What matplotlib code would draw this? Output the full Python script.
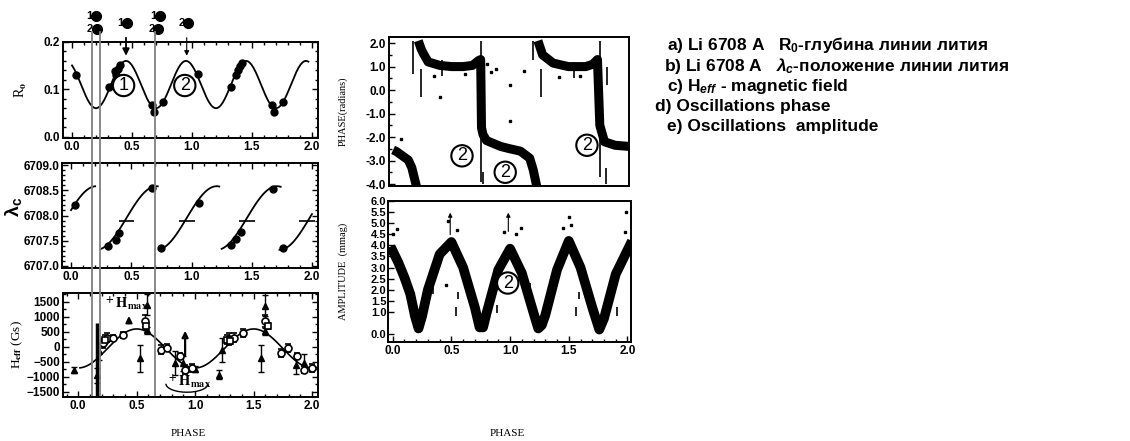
import numpy as np
import matplotlib
matplotlib.use('Agg')
import matplotlib.pyplot as plt
from matplotlib import transforms
from matplotlib.patches import Arc
from matplotlib.ticker import MultipleLocator, FormatStrFormatter

plt.rcParams['font.family'] = ['Liberation Sans', 'DejaVu Sans']
plt.rcParams['font.weight'] = 'bold'
plt.rcParams['mathtext.fontset'] = 'custom'
plt.rcParams['mathtext.rm'] = 'Liberation Sans:bold'
plt.rcParams['mathtext.bf'] = 'Liberation Sans:bold'
plt.rcParams['mathtext.it'] = 'Liberation Sans:italic:bold'

# ------------------------------------------------------------------ data
phase_ticks = [0.0, 0.5, 1.0, 1.5, 2.0]
marker_phases = [0.167, 0.233, 0.69]          # vertical phase lines

# top markers above panel a
top_labels = ['1', '2', '1', '1', '2', '2']
top_x = [0.20, 0.205, 0.456, 0.73, 0.72, 0.97]
top_y = [0.255, 0.228, 0.241, 0.255, 0.228, 0.240]
arrow_a_x = [0.45, 0.956]

# a) R0 line depth
r0_x = [0.03, 0.31, 0.36, 0.37, 0.38, 0.40, 0.67, 0.68, 0.76,
        1.05, 1.325, 1.37, 1.38, 1.40, 1.42, 1.67, 1.68, 1.76]
r0_y = [0.130, 0.104, 0.138, 0.130, 0.142, 0.152, 0.066, 0.053, 0.073,
        0.132, 0.104, 0.130, 0.140, 0.150, 0.155, 0.066, 0.053, 0.073]
r0_mean, r0_amp, r0_period, r0_peak = 0.11, 0.05, 0.5, 0.45
r0_fit_range = (0.0, 1.97)
a_circles = [('1', 0.43, 0.108), ('2', 0.94, 0.108)]

# b) lambda_c line position
lam_x = [0.03, 0.31, 0.37, 0.40, 0.67, 0.75, 1.06, 1.325, 1.37, 1.41, 1.68, 1.76]
lam_y = [6708.21, 6707.40, 6707.52, 6707.66, 6708.54, 6707.35,
         6708.24, 6707.42, 6707.54, 6707.67, 6708.53, 6707.35]
lam_mid, lam_amp, lam_halfperiod = 6707.95, 0.63, 0.5
lam_centers = [-0.04, 0.46, 0.96, 1.46, 1.98]
lam_seg_start = [0.0, 0.25, 0.73, 1.25, 1.73]
lam_seg_end = [0.20, 0.72, 1.23, 1.74, 2.0]
lam_bar_x = [0.46, 0.96, 1.46, 1.96]
lam_bar_y = 6707.9

# c) H_eff magnetic field
h_tri_x = [-0.04, 0.16, 0.18, 0.53, 0.59, 0.59, 0.83, 0.90, 1.00, 1.20, 1.23, 1.56, 1.60, 1.60, 1.86, 1.93]
h_tri_y = [-760, -950, -150, -370, 1400, 560, -530, -540, -720, -920, -90, -370, 1370, 520, -590, -530]
h_tri_e = [100, 250, 300, 450, 350, 120, 400, 250, 100, 150, 400, 450, 350, 120, 300, 300]
h_circ_x = [0.21, 0.25, 0.30, 0.385, 0.57, 0.71, 0.76, 0.87, 0.915, 0.97,
            1.29, 1.33, 1.41, 1.60, 1.73, 1.79, 1.87, 1.93, 2.00]
h_circ_y = [130, 300, 300, 410, 860, -90, -30, -310, -755, -700,
            250, 300, 466, 860, -200, -33, -310, -755, -700]
h_circ_e = [150, 150, 100, 100, 200, 150, 120, 100, 150, 120,
            200, 150, 120, 200, 120, 120, 100, 120, 120]
h_sq_x = [0.23, 0.58, 1.27, 1.30, 1.62]
h_sq_y = [243, 700, 243, 200, 700]
h_sq_e = [150, 100, 150, 100, 100]
h_mean, h_amp, h_zero = -50, 650, 0.25
h_fit_range = (0.015, 2.04)
h_long_bar = (0.158, -1700, 800)
h_arrows = [(0.434, 700, 1130), (0.914, -367, 633)]

# d) oscillation phase (dense band centre)
d_x = [0.0, 0.03, 0.08, 0.13, 0.16, 0.18, 0.20, np.nan,
       0.216, 0.24, 0.26, 0.30, 0.40, 0.50, 0.60, 0.68, 0.73, 0.75, 0.757, 0.77, 0.80, 0.92, 1.00, 1.09, 1.17, 1.20, 1.23, np.nan,
       1.24, 1.26, 1.28, 1.37, 1.50, 1.65, 1.71, 1.75, 1.77, 1.81, 1.90, 2.02]
d_y = [-2.55, -2.62, -2.80, -2.98, -3.3, -3.7, -4.1, np.nan,
       2.1, 1.75, 1.55, 1.2, 1.05, 1.0, 1.0, 1.05, 1.25, 1.3, -1.6, -1.9, -2.15, -2.4, -2.5, -2.6, -2.9, -3.4, -4.1, np.nan,
       2.1, 1.8, 1.5, 1.15, 1.0, 1.0, 1.1, 1.3, -1.5, -2.2, -2.35, -2.4]
d_spikes = [(0.17, 0.7, 2.1), (0.24, -0.3, 0.9), (0.75, -3.9, 2.1), (1.20, 1.3, 2.1),
            (1.27, -0.3, 0.9), (1.77, -3.7, 2.1), (1.83, 0.2, 1.0), (1.82, -4.0, -3.3),
            (0.77, -4.0, -3.5), (0.74, -0.5, 0.6), (1.73, 0.3, 0.9), (0.42, 0.6, 1.3),
            (1.55, 0.5, 1.2)]
d_dots_x = [1.00, 1.00, 0.40, 0.84, 0.88, 1.12, 0.35, 1.42, 0.62, 1.60, 0.80, 0.07]
d_dots_y = [0.21, -1.3, -0.28, 0.78, 0.9, 0.8, 0.6, 0.55, 0.7, 0.6, 1.1, -2.1]
d_circles = [('2', 0.59, -2.8), ('2', 0.96, -3.5), ('2', 1.66, -2.35)]

# e) oscillation amplitude (dense band centre)
e_x = [0.0, 0.05, 0.10, 0.15, 0.19, 0.22, 0.25, 0.30, 0.40, 0.50, 0.60, 0.70, 0.74, 0.77, 0.80,
       0.90, 1.00, 1.10, 1.20, 1.24, 1.27, 1.30, 1.40, 1.50, 1.60, 1.70, 1.76, 1.80, 1.90, 2.02]
e_y = [3.75, 3.2, 2.55, 1.8, 0.8, 0.25, 0.8, 2.0, 3.6, 4.15, 3.0, 1.2, 0.3, 0.3, 0.95,
       2.9, 3.85, 2.75, 0.95, 0.25, 0.4, 0.85, 2.9, 4.2, 3.0, 1.2, 0.2, 0.7, 2.7, 4.0]
e_spikes = [(0.145, 1.9, 2.3), (0.54, 0.8, 1.2), (0.56, 1.6, 1.9), (0.89, 0.93, 1.3),
            (1.17, 1.9, 2.3), (1.56, 0.8, 1.2), (1.59, 1.6, 1.9), (1.91, 0.8, 1.2),
            (0.34, 1.8, 2.4), (0.66, 2.0, 2.4), (1.35, 2.0, 2.5)]
e_dots_x = [0.04, 0.0, 0.47, 1.09, 1.50, 1.99, 1.52, 0.55, 0.95, 1.45, 0.45, 1.05, 1.98]
e_dots_y = [4.75, 4.5, 5.1, 4.8, 5.3, 5.5, 4.9, 4.7, 4.6, 4.8, 2.2, 4.5, 4.6]
e_arrows = [(0.49, 4.36, 5.6), (0.985, 4.5, 5.6)]
e_circles = [('2', 0.98, 2.3)]

legend_lines = [
    'a) Li 6708 A   R$_0$-глубина линии лития',
    'b) Li 6708 A   $\\lambda_c$-положение линии лития',
    'c) H$_{eff}$ - magnetic field',
    'd) Oscillations phase',
    'e) Oscillations  amplitude',
]
legend_px = [667, 664, 667, 655, 667]
legend_py = [45, 65.5, 86, 106.5, 127]

# ------------------------------------------------------------------ figure
W, H = 1130, 441
fig = plt.figure(figsize=(W / 100, H / 100), dpi=100)


def px_axes(left, top, right, bottom):
    return fig.add_axes([left / W, 1 - bottom / H, (right - left) / W, (bottom - top) / H])


ax_a = px_axes(63, 42, 318, 138)
ax_b = px_axes(62, 163, 318, 268)
ax_c = px_axes(63, 293, 318, 397)
ax_d = px_axes(389, 37, 629, 186)
ax_e = px_axes(388, 201, 631, 342)


def style(ax, all_sides=True):
    for s in ax.spines.values():
        s.set_linewidth(1.4)
    ax.tick_params(which='both', direction='in', top=all_sides, right=all_sides,
                   labelsize=8.5, width=1.0, pad=2)
    ax.tick_params(which='major', length=4)
    ax.tick_params(which='minor', length=2.5)


serif = dict(family='Liberation Serif', weight='normal', math_fontfamily='stix')


def circ(ax, txt, x, y, fs=12):
    ax.text(x, y, txt, ha='center', va='center', fontsize=fs, fontweight='normal',
            bbox=dict(boxstyle='circle,pad=0.12', fc='white', ec='black', lw=1.5), zorder=6)


# ---- a
ax = ax_a
xs = np.linspace(*r0_fit_range, 400)
ax.plot(xs, r0_mean + r0_amp * np.cos(2 * np.pi * (xs - r0_peak) / r0_period), 'k-', lw=1.3)
ax.plot(r0_x, r0_y, 'ko', ms=5)
for t, x, y in a_circles:
    circ(ax, t, x, y, 13)
for t, x, y in zip(top_labels, top_x, top_y):
    ax.plot(x, y, 'ko', ms=7, clip_on=False)
    ax.text(x - 0.03, y, t, ha='right', va='center', fontsize=8, clip_on=False)
for i, x in enumerate(arrow_a_x):
    ax.annotate('', xy=(x, 0.165), xytext=(x, 0.215), annotation_clip=False,
                arrowprops=dict(arrowstyle='-|>', lw=1.3 if i == 0 else 0.8, color='k',
                                mutation_scale=10 if i == 0 else 7))
ax.set_xlim(-0.075, 2.05)
ax.set_ylim(-0.003, 0.2)
ax.set_xticks(phase_ticks)
ax.xaxis.set_minor_locator(MultipleLocator(0.1))
ax.yaxis.set_major_locator(MultipleLocator(0.1))
ax.yaxis.set_minor_locator(MultipleLocator(0.02))
ax.xaxis.set_major_formatter(FormatStrFormatter('%.1f'))
ax.yaxis.set_major_formatter(FormatStrFormatter('%.1f'))
style(ax)
ax.set_ylabel('R$_\\mathrm{o}$', fontsize=10, **serif)
ax.yaxis.set_label_coords(-0.135, 0.5)

# ---- b
ax = ax_b
for c, s, e in zip(lam_centers, lam_seg_start, lam_seg_end):
    xs = np.linspace(s, e, 100)
    ax.plot(xs, lam_mid + lam_amp * np.sin(np.pi * (xs - c) / lam_halfperiod), 'k-', lw=1.3)
ax.hlines([lam_bar_y] * len(lam_bar_x), np.array(lam_bar_x) - 0.065, np.array(lam_bar_x) + 0.065,
          colors='k', lw=1.2)
ax.plot(lam_x, lam_y, 'ko', ms=5)
ax.set_xlim(-0.075, 2.05)
ax.set_ylim(6706.96, 6709.04)
ax.set_xticks(phase_ticks)
ax.xaxis.set_minor_locator(MultipleLocator(0.1))
ax.yaxis.set_major_locator(MultipleLocator(0.5))
ax.yaxis.set_minor_locator(MultipleLocator(0.1))
ax.xaxis.set_major_formatter(FormatStrFormatter('%.1f'))
ax.yaxis.set_major_formatter(FormatStrFormatter('%.1f'))
style(ax)
ax.set_ylabel('λ$_\\mathrm{c}$', fontsize=14, fontweight='bold')
ax.yaxis.set_label_coords(-0.15, 0.58)

# ---- c
ax = ax_c
xs = np.linspace(*h_fit_range, 400)
ax.plot(xs, h_mean + h_amp * np.sin(2 * np.pi * (xs - h_zero)), 'k-', lw=1.2)
ax.errorbar(h_tri_x, h_tri_y, yerr=h_tri_e, fmt='^', ms=4, color='k', mfc='k',
            elinewidth=1.0, capsize=2, capthick=1)
ax.errorbar(h_circ_x, h_circ_y, yerr=h_circ_e, fmt='o', ms=5, color='k', mfc='white',
            mew=1.2, elinewidth=1.0, capsize=2, capthick=1)
ax.errorbar(h_sq_x, h_sq_y, yerr=h_sq_e, fmt='s', ms=5, color='k', mfc='white',
            mew=1.2, elinewidth=1.0, capsize=2, capthick=1)
ax.vlines(h_long_bar[0], h_long_bar[1], h_long_bar[2], colors='k', lw=2.5)
for x, y0, y1 in h_arrows:
    ax.annotate('', xy=(x, y1), xytext=(x, y0),
                arrowprops=dict(arrowstyle='-|>', lw=1.6, color='k', mutation_scale=9))
ax.text(0.22, 1420, '$^+\\mathrm{H}_{\\mathbf{max}}$', fontsize=10.5, va='center', **serif)
ax.text(0.76, -1180, '$^+\\mathrm{H}_{\\mathbf{max}}$', fontsize=10.5, va='center', **serif)
ax.add_patch(Arc((0.93, -1230), 0.36, 560, theta1=95, theta2=355, lw=1.0, color='k'))
ax.set_xlim(-0.13, 2.05)
ax.set_ylim(-1670, 1800)
ax.set_xticks(phase_ticks)
ax.xaxis.set_minor_locator(MultipleLocator(0.1))
ax.set_yticks([-1500, -1000, -500, 0, 500, 1000, 1500])
ax.yaxis.set_minor_locator(MultipleLocator(250))
ax.xaxis.set_major_formatter(FormatStrFormatter('%.1f'))
style(ax)
ax.set_ylabel('H$_{\\mathrm{eff}}$ (Gs)', fontsize=9.5, **serif)
ax.yaxis.set_label_coords(-0.15, 0.5)
ax.set_xlabel('PHASE', fontsize=8, **serif)
ax.xaxis.set_label_coords(0.49, -0.31)

# ---- d
ax = ax_d
ax.plot(d_x, d_y, 'k-', lw=6.5, solid_capstyle='butt', solid_joinstyle='round')
for x, y0, y1 in d_spikes:
    ax.vlines(x, y0, y1, colors='k', lw=1.2)
ax.plot(d_dots_x, d_dots_y, 'ks', ms=1.5)
for t, x, y in d_circles:
    circ(ax, t, x, y, 13)
ax.set_xlim(-0.035, 2.02)
ax.set_ylim(-4.085, 2.26)
ax.set_xticks(phase_ticks)
ax.tick_params(labelbottom=False)
ax.yaxis.set_major_locator(MultipleLocator(1.0))
ax.yaxis.set_minor_locator(MultipleLocator(0.5))
ax.yaxis.set_major_formatter(FormatStrFormatter('%.1f'))
style(ax, all_sides=False)
ax.tick_params(axis='x', which='both', length=0)
ax.set_ylabel('PHASE(radians)', fontsize=7.5, **serif)
ax.yaxis.set_label_coords(-0.17, 0.5)

# ---- e
ax = ax_e
ax.plot(e_x, e_y, 'k-', lw=7, solid_joinstyle='round')
for x, y0, y1 in e_spikes:
    ax.vlines(x, y0, y1, colors='k', lw=1.2)
ax.plot(e_dots_x, e_dots_y, 'ks', ms=1.5)
for x, y0, y1 in e_arrows:
    ax.annotate('', xy=(x, y1), xytext=(x, y0),
                arrowprops=dict(arrowstyle='-|>', lw=0.8, color='k', mutation_scale=6))
for t, x, y in e_circles:
    circ(ax, t, x, y, 13)
ax.set_xlim(-0.04, 2.03)
ax.set_ylim(-0.36, 6.0)
ax.set_xticks(phase_ticks)
ax.xaxis.set_minor_locator(MultipleLocator(0.1))
ax.set_yticks([0.0, 1.0, 1.5, 2.0, 2.5, 3.0, 3.5, 4.0, 4.5, 5.0, 5.5, 6.0])
ax.xaxis.set_major_formatter(FormatStrFormatter('%.1f'))
ax.yaxis.set_major_formatter(FormatStrFormatter('%.1f'))
style(ax, all_sides=False)
ax.tick_params(axis='y', labelsize=8, pad=1)
ax.set_ylabel('AMPLITUDE  (mmag)', fontsize=7.5, **serif)
ax.yaxis.set_label_coords(-0.165, 0.5)
ax.set_xlabel('PHASE', fontsize=8, **serif)
ax.xaxis.set_label_coords(0.49, -0.617)

# ---- vertical phase lines across the left column
blend = transforms.blended_transform_factory(ax_a.transData, fig.transFigure)
for x in marker_phases:
    fig.add_artist(plt.Line2D([x, x], [1 - 32 / H, 1 - 395 / H], transform=blend,
                              color='#808080', lw=1.3, zorder=10))

# ---- legend text
for t, x, y in zip(legend_lines, legend_px, legend_py):
    fig.text(x / W, 1 - y / H, t, fontsize=12.5, fontweight='bold', va='center', ha='left')

fig.savefig('out.png', dpi=100)
